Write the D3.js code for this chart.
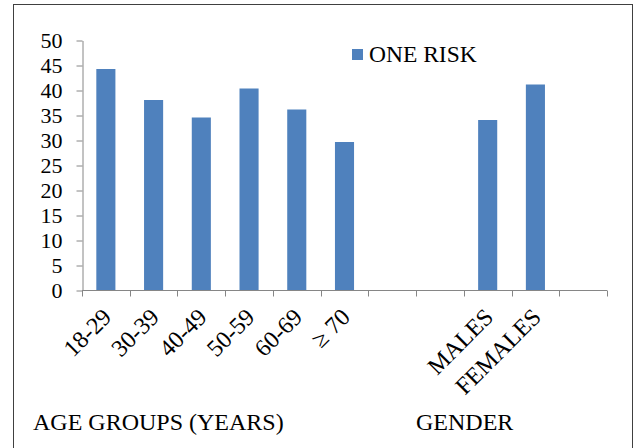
<!DOCTYPE html>
<html>
<head>
<meta charset="utf-8">
<script src="https://cdn.jsdelivr.net/npm/d3@7"></script>
<style>
  html, body { margin: 0; padding: 0; background: #fff; }
  svg { display: block; }
  svg text { font-family: "Liberation Serif", "Times New Roman", serif; }
</style>
</head>
<body>
<svg id="chart" width="635" height="448"></svg>
<script>
// Share of respondents with one risk factor, by age group and by gender.
// Empty strings are spacer slots between the two groups.
const categories = ["18-29", "30-39", "40-49", "50-59", "60-69", "\u2265 70", "", "", "MALES", "FEMALES", ""];
const oneRisk    = [44.3, 38.1, 34.6, 40.4, 36.2, 29.7, null, null, 34.1, 41.2, null];
const yTicks     = [0, 5, 10, 15, 20, 25, 30, 35, 40, 45, 50];
const seriesName = "ONE RISK";
const groupTitles = ["AGE GROUPS (YEARS)", "GENDER"];

const svg = d3.select("#chart");
const barColor = "#4f81bd";
const axisColor = "#868686";
const serif = "'Liberation Serif', 'Times New Roman', serif";

// outer frame
svg.append("rect")
  .attr("x", 13.5).attr("y", 4.5)
  .attr("width", 619).attr("height", 460)
  .attr("fill", "none").attr("stroke", "#404040").attr("stroke-width", 1);

const plot = { left: 82, right: 607, top: 40.5, bottom: 290.5 };

const x = d3.scaleBand()
  .domain(d3.range(categories.length))
  .range([plot.left, plot.right])
  .paddingInner(0.6)
  .paddingOuter(0.3);

const y = d3.scaleLinear()
  .domain([0, 50])
  .range([plot.bottom, plot.top]);

// y axis
const yAxis = svg.append("g")
  .attr("transform", `translate(${plot.left + 0.5},0)`)
  .call(d3.axisLeft(y).tickValues(yTicks).tickSize(6).tickPadding(14).tickSizeOuter(0));
yAxis.attr("font-family", null).attr("font-size", null);
yAxis.select(".domain").attr("stroke", axisColor);
yAxis.selectAll(".tick line").attr("stroke", axisColor);
yAxis.selectAll(".tick text")
  .style("font-family", serif)
  .style("font-size", "22px")
  .attr("fill", "#000");

// bars
svg.append("g")
  .selectAll("rect")
  .data(d3.range(categories.length).filter(i => oneRisk[i] != null))
  .join("rect")
  .attr("x", i => x(i))
  .attr("y", i => y(oneRisk[i]))
  .attr("width", x.bandwidth())
  .attr("height", i => y(0) - y(oneRisk[i]))
  .attr("fill", barColor);

// x axis: baseline with ticks on category boundaries
const xg = svg.append("g");
const pad = x.step() * x.paddingInner() / 2;
const bounds = d3.range(categories.length).map(i => x(i) - pad).concat([plot.right]);
xg.append("line")
  .attr("x1", plot.left).attr("x2", plot.right)
  .attr("y1", y(0)).attr("y2", y(0))
  .attr("stroke", axisColor);
xg.selectAll("line.tick")
  .data(bounds)
  .join("line")
  .attr("class", "tick")
  .attr("x1", d => Math.round(d) + 0.5).attr("x2", d => Math.round(d) + 0.5)
  .attr("y1", y(0)).attr("y2", y(0) + 6)
  .attr("stroke", axisColor);

// rotated category labels
xg.selectAll("text")
  .data(d3.range(categories.length).filter(i => categories[i] !== ""))
  .join("text")
  .attr("transform", i => `translate(${x(i) + x.bandwidth() / 2 + 7},${y(0) + 28}) rotate(-45)`)
  .attr("text-anchor", "end")
  .style("font-size", "24px")
  .attr("fill", "#000")
  .text(i => categories[i]);

// legend
const legend = svg.append("g").attr("transform", "translate(352,49)");
legend.append("rect").attr("width", 11).attr("height", 11).attr("fill", barColor);
legend.append("text")
  .attr("x", 17).attr("y", 13)
  .style("font-size", "23.5px")
  .attr("fill", "#000")
  .text(seriesName);

// group titles
svg.append("text")
  .attr("x", 33).attr("y", 430)
  .style("font-size", "24px")
  .attr("fill", "#000")
  .text(groupTitles[0]);
svg.append("text")
  .attr("x", 416).attr("y", 430)
  .style("font-size", "24px")
  .attr("fill", "#000")
  .text(groupTitles[1]);
</script>
</body>
</html>
